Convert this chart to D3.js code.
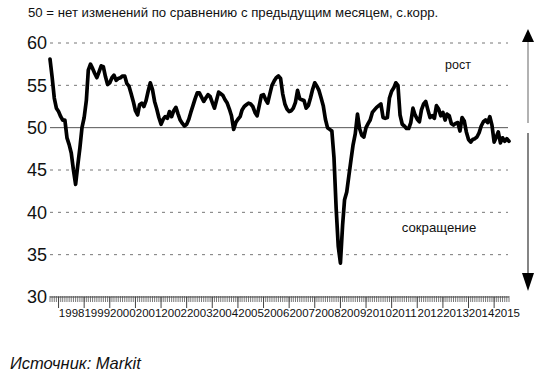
<!DOCTYPE html>
<html>
<head>
<meta charset="utf-8">
<script src="https://cdn.jsdelivr.net/npm/d3@7"></script>
<style>
  body { margin: 0; background: #fff; }
  svg { display: block; font-family: "Liberation Sans", Arial, sans-serif; }
</style>
</head>
<body>
<svg width="550" height="377"></svg>
<script>
// data ====================================================
// monthly index values, Sep 1997 .. Aug 2015
var startMonth = new Date(1997, 8, 1);
var pmi = [
  58.1, 56.0, 53.5, 52.3, 51.9, 51.3, 50.9, 50.9, 48.8, 48.0, 47.0, 45.0,
  43.3, 45.5, 47.6, 50.0, 51.2, 53.2, 56.8, 57.5, 57.0, 56.4, 55.9, 56.6,
  57.3, 57.2, 56.0, 55.1, 55.3, 55.9, 56.2, 55.6, 55.8, 55.9, 56.1, 56.1,
  55.2, 54.9, 54.0, 53.1, 52.0, 51.5, 52.7, 52.9, 52.5, 53.2, 54.3, 55.3,
  54.5, 53.1, 52.2, 51.2, 50.4, 51.0, 51.3, 51.1, 51.9, 51.3, 52.0, 52.4,
  51.6, 50.9, 50.5, 50.2, 50.4, 51.0, 51.8, 52.6, 53.4, 54.1, 54.1, 53.6,
  53.1, 53.5, 53.9, 53.7, 53.0, 52.3, 53.2, 54.2, 54.0, 53.8, 53.3, 52.9,
  52.2, 51.4, 49.8, 50.6, 51.0, 51.3, 52.1, 52.5, 52.7, 52.9, 52.8, 52.5,
  51.8, 51.4, 52.6, 53.8, 53.9, 53.3, 52.9, 54.0, 55.0, 55.5, 55.9, 56.1,
  55.8, 54.0, 52.8, 52.2, 51.9, 52.0, 52.3, 53.0, 54.4, 53.4, 53.3, 53.2,
  52.3, 52.6, 53.5, 54.5, 55.3, 54.9, 54.4, 53.5, 52.6, 51.0, 50.0, 49.8,
  49.6, 46.5, 40.5, 36.0, 34.0, 38.5, 41.5, 42.4, 44.3, 46.2, 48.0, 49.3,
  51.6, 49.9, 49.1, 48.9, 50.0, 50.5, 50.9, 51.8, 52.1, 52.4, 52.6, 52.8,
  51.2, 51.1, 51.2, 53.5, 54.3, 54.7, 55.3, 55.0, 51.5, 50.4, 50.2, 49.9,
  49.9, 50.6, 52.3, 51.5, 51.0, 50.7, 52.1, 52.8, 53.1, 52.1, 51.2, 51.4,
  51.1, 52.6, 52.2, 51.4, 51.8, 50.9, 51.6, 51.4, 50.5, 50.3, 50.5, 50.6,
  49.6, 51.2, 50.8, 49.5, 48.6, 48.3, 48.6, 48.7, 48.9, 49.4, 50.2, 50.7,
  50.9, 50.6, 51.3, 50.3, 48.3, 48.9, 49.5, 48.2, 48.8, 48.4, 48.7, 48.4
];
var yTicks = [30, 35, 40, 45, 50, 55, 60];
var yearLabels = d3.range(1998, 2016);
var noteText = "50 = нет изменений по сравнению с предыдущим месяцем, с.корр.";
var upLabel = "рост";
var downLabel = "сокращение";
var sourceText = "Источник: Markit";

// setup ===================================================
var svg = d3.select("svg");
var dates = pmi.map(function(d, i) { return d3.timeMonth.offset(startMonth, i); });

var x = d3.scaleTime()
  .domain([dates[0], dates[dates.length - 1]])
  .range([50, 509]);
var y = d3.scaleLinear().domain([30, 60]).range([297, 43]);

// note at top
svg.append("text")
  .attr("x", 28).attr("y", 17)
  .attr("font-size", 13.2)
  .attr("fill", "#111")
  .text(noteText);

// gridlines
svg.append("g").selectAll("line")
  .data(yTicks.filter(function(d) { return d != 30 && d != 50; }))
  .enter().append("line")
  .attr("x1", 50).attr("x2", 508)
  .attr("y1", function(d) { return y(d); })
  .attr("y2", function(d) { return y(d); })
  .attr("stroke", "#777")
  .attr("stroke-width", 1)
  .attr("stroke-dasharray", "3,5");

svg.append("line")
  .attr("x1", 50).attr("x2", 508)
  .attr("y1", y(50)).attr("y2", y(50))
  .attr("stroke", "#555")
  .attr("stroke-width", 1);

// y labels
svg.append("g").selectAll("text")
  .data(yTicks)
  .enter().append("text")
  .attr("x", 47)
  .attr("y", function(d) { return y(d); })
  .attr("dy", "0.36em")
  .attr("text-anchor", "end")
  .attr("font-size", 18)
  .attr("fill", "#111")
  .text(function(d) { return d; });

// x axis: monthly minor ticks, yearly major ticks
var xAxis = svg.append("g").attr("transform", "translate(0," + y(30) + ")");
xAxis.append("line")
  .attr("x1", 50).attr("x2", 509)
  .attr("stroke", "#444");
xAxis.selectAll(".minor")
  .data(dates)
  .enter().append("line")
  .attr("class", "minor")
  .attr("x1", function(d) { return x(d); })
  .attr("x2", function(d) { return x(d); })
  .attr("y1", -1).attr("y2", 5)
  .attr("stroke", "#555")
  .attr("stroke-width", 0.8);

var years = yearLabels.map(function(yr) { return new Date(yr, 0, 1); });
xAxis.selectAll(".major")
  .data(years)
  .enter().append("line")
  .attr("class", "major")
  .attr("x1", function(d) { return x(d); })
  .attr("x2", function(d) { return x(d); })
  .attr("y1", 0).attr("y2", 11)
  .attr("stroke", "#444")
  .attr("stroke-width", 1);
xAxis.selectAll(".yl")
  .data(years)
  .enter().append("text")
  .attr("class", "yl")
  .attr("x", function(d) { return x(d) + 0.3; })
  .attr("y", 20)
  .attr("font-size", 11.5)
  .attr("fill", "#111")
  .text(function(d) { return d.getFullYear(); });

// series
var line = d3.line()
  .x(function(d, i) { return x(dates[i]); })
  .y(function(d) { return y(d); });

svg.append("path")
  .datum(pmi)
  .attr("d", line)
  .attr("fill", "none")
  .attr("stroke", "#000")
  .attr("stroke-width", 3.7)
  .attr("stroke-linejoin", "round")
  .attr("stroke-linecap", "round");

// direction arrows on the right
var ax = 528;
svg.append("line")
  .attr("x1", ax).attr("x2", ax)
  .attr("y1", 41).attr("y2", 123)
  .attr("stroke", "#999").attr("stroke-width", 1.5);
svg.append("path")
  .attr("d", "M" + (ax - 6) + ",42 L" + (ax + 6) + ",42 L" + ax + ",29 Z")
  .attr("fill", "#000");
svg.append("line")
  .attr("x1", ax).attr("x2", ax)
  .attr("y1", 133).attr("y2", 275)
  .attr("stroke", "#333").attr("stroke-width", 1.2);
svg.append("path")
  .attr("d", "M" + (ax - 6) + ",273 L" + (ax + 6) + ",273 L" + ax + ",291 Z")
  .attr("fill", "#000");

svg.append("text")
  .attr("x", 458).attr("y", 69)
  .attr("text-anchor", "middle")
  .attr("font-size", 12.5)
  .attr("fill", "#111")
  .text(upLabel);
svg.append("text")
  .attr("x", 439).attr("y", 232)
  .attr("text-anchor", "middle")
  .attr("font-size", 13.2)
  .attr("fill", "#111")
  .text(downLabel);

// source
svg.append("text")
  .attr("x", 10).attr("y", 369)
  .attr("font-size", 16.5)
  .attr("font-style", "italic")
  .attr("fill", "#111")
  .text(sourceText);
</script>
</body>
</html>
